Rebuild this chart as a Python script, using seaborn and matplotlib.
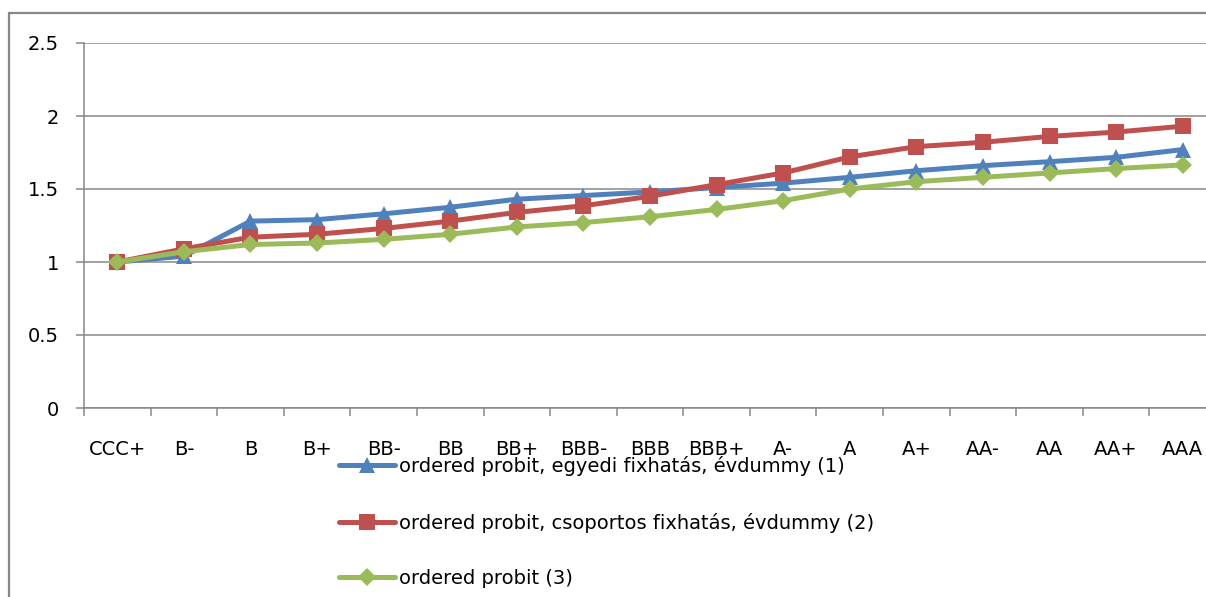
import pandas as pd
import matplotlib.pyplot as plt
import matplotlib.patches as patches
import seaborn as sns

# Rating categories
ratings = ['CCC+', 'B-', 'B', 'B+', 'BB-', 'BB', 'BB+', 'BBB-', 'BBB', 'BBB+',
           'A-', 'A', 'A+', 'AA-', 'AA', 'AA+', 'AAA']

# Series values
egyedi = [1.00, 1.04, 1.28, 1.29, 1.33, 1.375, 1.43, 1.455, 1.48, 1.51,
          1.54, 1.58, 1.625, 1.66, 1.687, 1.717, 1.77]
csoportos = [1.00, 1.09, 1.17, 1.19, 1.23, 1.28, 1.34, 1.385, 1.45, 1.53,
             1.61, 1.72, 1.79, 1.82, 1.86, 1.89, 1.93]
simple = [1.00, 1.07, 1.12, 1.13, 1.155, 1.19, 1.24, 1.27, 1.31, 1.36,
          1.42, 1.50, 1.55, 1.58, 1.61, 1.64, 1.665]

series_names = ['ordered probit, egyedi fixhatás, évdummy (1)',
                'ordered probit, csoportos fixhatás, évdummy (2)',
                'ordered probit (3)']

# Build long-form table
rows = []
for name, vals in zip(series_names, [egyedi, csoportos, simple]):
    for i, v in enumerate(vals):
        rows.append({'pos': i, 'rating': ratings[i], 'value': v, 'series': name})
df = pd.DataFrame(rows)

sns.set_style('white')
plt.rcParams['font.family'] = ['DejaVu Sans']
plt.rcParams['text.color'] = 'black'
plt.rcParams['xtick.labelcolor'] = 'black'
plt.rcParams['ytick.labelcolor'] = 'black'

fig = plt.figure(figsize=(12.06, 5.97), dpi=100)
# axes extends past the right edge like the original (cropped)
ax = fig.add_axes([84 / 1206, 1 - 408 / 597, 1132 / 1206, 365 / 597])

palette = {series_names[0]: '#4F81BD', series_names[1]: '#C0504D', series_names[2]: '#9BBB59'}
markers = {series_names[0]: '^', series_names[1]: 's', series_names[2]: 'D'}
sizes = {series_names[0]: 12, series_names[1]: 11, series_names[2]: 9}

for name in series_names:
    sub = df[df['series'] == name]
    sns.lineplot(x='pos', y='value', data=sub, ax=ax, color=palette[name],
                 marker=markers[name], markersize=sizes[name], markeredgewidth=0,
                 linewidth=3.6, label=name, sort=False)

ax.set_xlim(-0.5, 16.5)
ax.set_ylim(0, 2.5)
ax.set_yticks([0, 0.5, 1, 1.5, 2, 2.5])
ax.set_yticklabels(['0', '0.5', '1', '1.5', '2', '2.5'])
ax.set_xticks(range(len(ratings)))
ax.set_xticklabels(ratings)
ax.set_xticks([i - 0.5 for i in range(len(ratings) + 1)], minor=True)
ax.set_xlabel('')
ax.set_ylabel('')

ax.grid(axis='y', color='#878787', linewidth=1.1)
ax.grid(axis='x', visible=False)
ax.set_axisbelow(True)
for s in ['top', 'right']:
    ax.spines[s].set_visible(False)
for s in ['left', 'bottom']:
    ax.spines[s].set_color('#878787')
    ax.spines[s].set_linewidth(1.1)

ax.tick_params(axis='y', which='major', length=6, width=1.1, color='#878787',
               pad=12, labelsize=14, left=True, labelcolor='black')
ax.tick_params(axis='x', which='major', length=0, pad=23, labelsize=14, labelcolor='black')
ax.tick_params(axis='x', which='minor', length=6, width=1.1, color='#878787', bottom=True)

# legend below the axis
ax.legend_.remove()
handles, labels = ax.get_legend_handles_labels()
leg = fig.legend(handles, labels, loc='upper left', bbox_to_anchor=(339 / 1206, 1 - 456 / 597),
                 frameon=False, fontsize=14, handlelength=2.9, handletextpad=0.2,
                 labelspacing=1.88, borderpad=0, borderaxespad=0)
for t in leg.get_texts():
    t.set_color('black')

# outer chart frame
frame = patches.Rectangle((9 / 1206, -0.1), 1.2, 1 - 13 / 597 + 0.1,
                          transform=fig.transFigure, fill=False,
                          edgecolor='#878787', linewidth=1.6)
fig.patches.append(frame)

fig.savefig('out.png', dpi=100)
